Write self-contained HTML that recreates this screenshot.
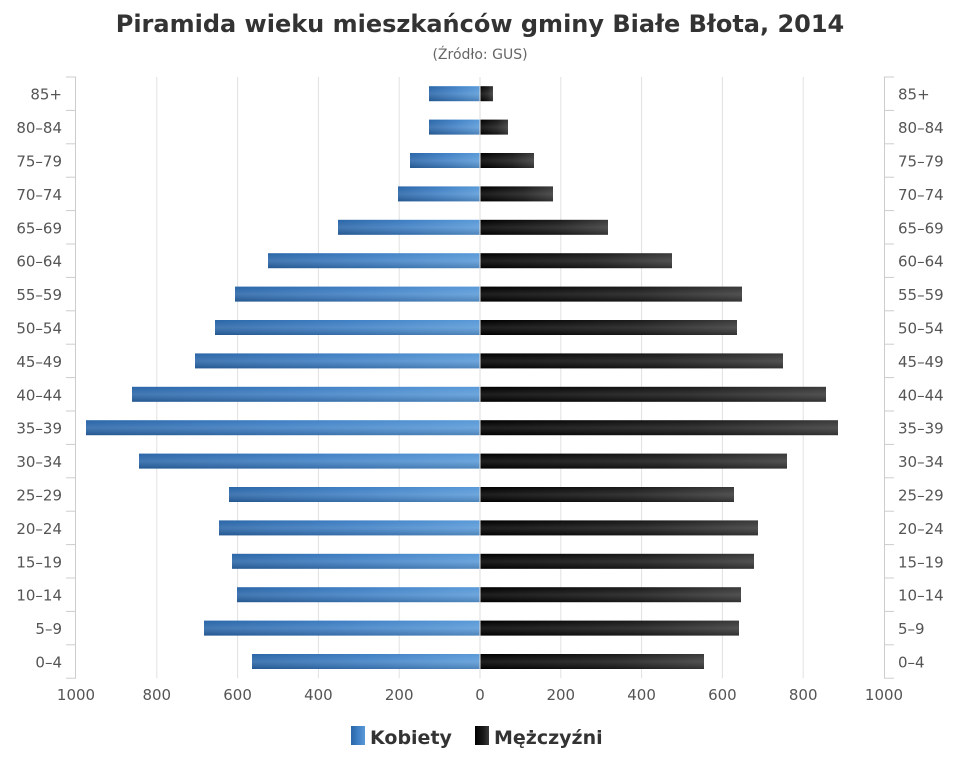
<!DOCTYPE html>
<html><head><meta charset="utf-8"><style>
body{margin:0;background:#fff;font-family:"DejaVu Sans","Liberation Sans",sans-serif;}
</style></head><body>
<svg id="s" width="960" height="768" xmlns="http://www.w3.org/2000/svg" font-family="DejaVu Sans, Liberation Sans, sans-serif">
<defs>
<linearGradient id="gb" x1="0" y1="0" x2="1" y2="0">
<stop offset="0" stop-color="#2a66a8"/><stop offset="0.5" stop-color="#3f7fc4"/><stop offset="1" stop-color="#5a9ad8"/></linearGradient>
<linearGradient id="gk" x1="0" y1="0" x2="1" y2="0">
<stop offset="0" stop-color="#000"/><stop offset="0.6" stop-color="#1a1a1a"/><stop offset="1" stop-color="#3a3a3a"/></linearGradient>
<linearGradient id="gv" x1="0" y1="0" x2="0" y2="1">
<stop offset="0" stop-color="#fff" stop-opacity="0"/><stop offset="0.5" stop-color="#fff" stop-opacity="0.12"/><stop offset="1" stop-color="#000" stop-opacity="0.15"/></linearGradient>
</defs>
<text x="480" y="32" text-anchor="middle" font-size="24" font-weight="bold" fill="#333">Piramida wieku mieszkańców gminy Białe Błota, 2014</text>
<text x="480" y="59" text-anchor="middle" font-size="14" fill="#666">(Źródło: GUS)</text>
<g id="g"></g>
<rect x="351" y="726" width="14" height="19" fill="url(#gb)"/>
<text x="370" y="744" font-size="19" font-weight="bold" fill="#333">Kobiety</text>
<rect x="475" y="726" width="14" height="19" fill="url(#gk)"/>
<text x="494" y="744" font-size="19" font-weight="bold" fill="#333">Mężczyźni</text>
</svg>
<script>
(function(){
var g=document.getElementById('g'),h='';
var labs=['85+','80-84','75-79','70-74','65-69','60-64','55-59','50-54','45-49','40-44','35-39','30-34','25-29','20-24','15-19','10-14','5-9','0-4'];
var W=[429,429,410,398,338,268,235,215,195,132,86,139,229,219,232,237,204,252];
var M=[493,508,534,553,608,672,742,737,783,826,838,787,734,758,754,741,739,704];
var T=77,bh=33.4,B=T+18*bh;
for(var i=0;i<=10;i++){var x=76+i*80.8;
if(i!=5&&i!=0&&i!=10)h+='<line x1="'+x+'" y1="'+T+'" x2="'+x+'" y2="'+B+'" stroke="#e0e0e0"/>';
var v=Math.abs(1000-i*200);h+='<text x="'+x+'" y="'+(B+22)+'" text-anchor="middle" font-size="15" fill="#555">'+v+'</text>';}
h+='<line x1="75.5" y1="'+T+'" x2="75.5" y2="'+B+'" stroke="#ccc"/><line x1="884.5" y1="'+T+'" x2="884.5" y2="'+B+'" stroke="#ccc"/>';
for(var i=0;i<=18;i++){var y=T+i*bh;h+='<line x1="66" y1="'+y+'" x2="76" y2="'+y+'" stroke="#ccc"/><line x1="884" y1="'+y+'" x2="894" y2="'+y+'" stroke="#ccc"/>';}
for(var i=0;i<18;i++){var c=T+(i+0.5)*bh,y=c-7.5;
h+='<text x="62" y="'+(c+6)+'" text-anchor="end" font-size="15" fill="#555">'+labs[i].replace('-','–')+'</text>';
h+='<text x="898" y="'+(c+6)+'" font-size="15" fill="#555">'+labs[i].replace('-','–')+'</text>';
h+='<rect x="'+W[i]+'" y="'+y+'" width="'+(480-W[i])+'" height="15" fill="url(#gb)"/><rect x="'+W[i]+'" y="'+y+'" width="'+(480-W[i])+'" height="15" fill="url(#gv)"/>';
h+='<rect x="480" y="'+y+'" width="'+(M[i]-480)+'" height="15" fill="url(#gk)"/><rect x="480" y="'+y+'" width="'+(M[i]-480)+'" height="15" fill="url(#gv)"/>';}
h+='<line x1="480" y1="'+T+'" x2="480" y2="'+B+'" stroke="#ddd"/>';
g.innerHTML=h;
})();
</script>
</body></html>
